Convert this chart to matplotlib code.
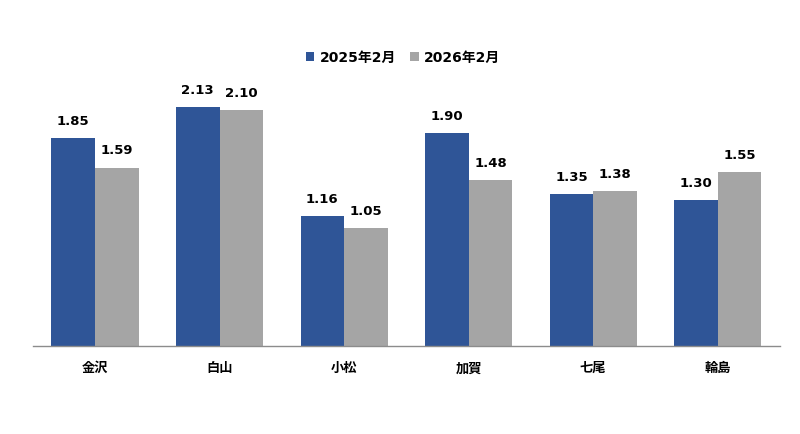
import matplotlib
matplotlib.use("Agg")
import matplotlib.pyplot as plt
import numpy as np

plt.rcParams['font.family'] = ['DejaVu Sans', 'Noto Sans CJK JP']

categories = ['金沢', '白山', '小松', '加賀', '七尾', '輪島']
series_names = ['2025年2月', '2026年2月']
values_2025 = [1.85, 2.13, 1.16, 1.90, 1.35, 1.30]
values_2026 = [1.59, 2.10, 1.05, 1.48, 1.38, 1.55]
colors = ['#2F5597', '#A5A5A5']

fig = plt.figure(figsize=(8, 4.35), dpi=100)
ax = fig.add_axes([0.041, 88 / 435, 0.934, 0.645])

x = np.arange(len(categories))
w = 0.35
b1 = ax.bar(x - w / 2, values_2025, w, color=colors[0], label=series_names[0])
b2 = ax.bar(x + w / 2, values_2026, w, color=colors[1], label=series_names[1])

for bars, vals in ((b1, values_2025), (b2, values_2026)):
    for rect, v in zip(bars, vals):
        ax.annotate(f'{v:.2f}', (rect.get_x() + rect.get_width() / 2, v),
                    xytext=(0, 8), textcoords='offset points',
                    ha='center', va='bottom', fontsize=9.5, fontweight='bold',
                    color='#000000')

ax.set_xlim(-0.5, len(categories) - 0.5)
ax.set_ylim(0, 2.5)
ax.set_yticks([])
ax.set_xticks(x)
ax.set_xticklabels(categories, fontsize=9.5, fontweight='bold')
ax.tick_params(axis='x', length=0, pad=11)
for s in ['top', 'right', 'left']:
    ax.spines[s].set_visible(False)
ax.spines['bottom'].set_color('#8C8C8C')
ax.spines['bottom'].set_linewidth(1)

leg = fig.legend(handles=[b1, b2], labels=series_names, loc='center',
                 bbox_to_anchor=(0.504, 1 - 58 / 435), ncol=2, frameon=False,
                 prop={'weight': 'bold', 'size': 10}, handlelength=0.6,
                 handleheight=0.6, handletextpad=0.4, columnspacing=1.0)

fig.savefig('out.png', dpi=100)
